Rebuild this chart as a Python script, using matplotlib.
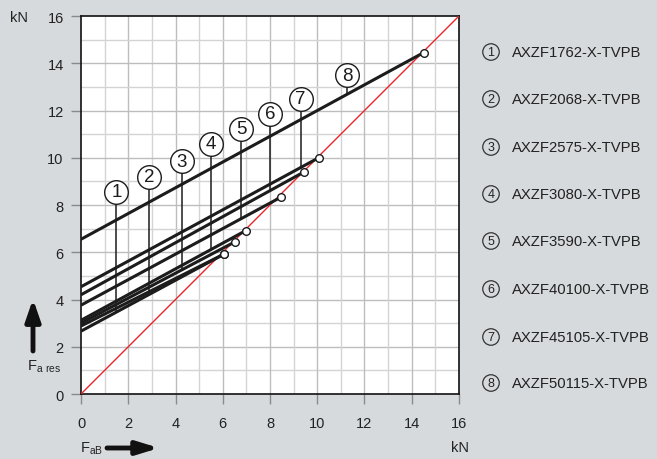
import numpy as np
import matplotlib.pyplot as plt

# --- data ---
models = ['AXZF1762-X-TVPB', 'AXZF2068-X-TVPB', 'AXZF2575-X-TVPB', 'AXZF3080-X-TVPB',
          'AXZF3590-X-TVPB', 'AXZF40100-X-TVPB', 'AXZF45105-X-TVPB', 'AXZF50115-X-TVPB']
# F_a res at F_aB = 0 (kN)
start_y = [2.66, 2.88, 3.00, 3.12, 3.76, 4.20, 4.54, 6.55]
# end point (lift-off) of each line
end_x = [6.07, 6.07, 6.53, 6.98, 8.46, 9.42, 10.06, 14.50]
end_y = [5.93, 5.93, 6.45, 6.92, 8.33, 9.39, 10.00, 14.45]
# position of the numbered label circles
label_x = [1.50, 2.88, 4.27, 5.51, 6.78, 8.02, 9.30, 11.28]
label_y = [8.56, 9.19, 9.86, 10.60, 11.23, 11.86, 12.50, 13.49]

bg = '#d7dadd'
fig = plt.figure(figsize=(6.57, 4.6), dpi=100, facecolor=bg)
ax = fig.add_axes([0.1233, 0.1413, 0.5753, 0.8217])
ax.set_facecolor('white')
ax.set_xlim(0, 16)
ax.set_ylim(0, 16)

# grid: every unit
for v in range(1, 16):
    c = '#bdbdbd' if v % 2 == 0 else '#d4d4d4'
    ax.axvline(v, color=c, lw=1, zorder=1)
    ax.axhline(v, color=c, lw=1, zorder=1)

ax.set_xticks(range(0, 17, 2))
ax.set_yticks(range(0, 17, 2))
ax.tick_params(axis='both', direction='out', length=7.5, width=1, color='#8a8a8a',
               labelsize=10.5, labelcolor='#222222')
ax.tick_params(axis='x', pad=8)
ax.tick_params(axis='y', pad=5)
for s in ax.spines.values():
    s.set_color('#111111')
    s.set_linewidth(1.2)

for lab in ax.get_xticklabels() + ax.get_yticklabels():
    lab.set_fontfamily('Liberation Sans')

# red reference line F_ares = F_aB
ax.plot([0, 16], [0, 16], color='#e8262b', lw=1, zorder=3)

# characteristic lines
for i in range(len(models)):
    ax.plot([0, end_x[i]], [start_y[i], end_y[i]], color='#1c1c1c', lw=2.2,
            solid_capstyle='butt', zorder=4)

# leaders + numbered circles
r = 11.5 / 23.6
for i in range(len(models)):
    yl = np.interp(label_x[i], [0, end_x[i]], [start_y[i], end_y[i]])
    ax.plot([label_x[i], label_x[i]], [yl, label_y[i] - r], color='#1c1c1c', lw=1.1, zorder=4)
    ax.plot(label_x[i], label_y[i], 'o', ms=17, mfc='white', mec='#1c1c1c', mew=1, zorder=6)
    ax.text(label_x[i], label_y[i], str(i + 1), ha='center', va='center', fontsize=13.5,
            family='Liberation Sans', color='#1c1c1c', zorder=7)

# end point markers
for i in range(len(models)):
    ax.plot(end_x[i], end_y[i], 'o', ms=5.5, mfc='white', mec='#1c1c1c', mew=1, zorder=8)

# axis units
fig.text(10 / 657, 1 - 18 / 460, 'kN', fontsize=10.5, family='Liberation Sans',
         color='#222222', ha='left', va='center')
fig.text(460 / 657, 1 - 448 / 460, 'kN', fontsize=10.5, family='Liberation Sans',
         color='#222222', ha='center', va='center')

# axis names with arrows
fig.text(27 / 657, 1 - 367 / 460, r'F$_\mathregular{a\ res}$', fontsize=10.5,
         family='Liberation Sans', color='#222222', ha='left', va='center')
fig.text(80 / 657, 1 - 449 / 460, r'F$_\mathregular{aB}$', fontsize=10.5,
         family='Liberation Sans', color='#222222', ha='left', va='center')
ax.annotate('', xy=(33 / 657, 1 - 300 / 460), xytext=(33 / 657, 1 - 352 / 460),
            xycoords='figure fraction', textcoords='figure fraction',
            arrowprops=dict(arrowstyle='-|>,head_length=1.3,head_width=0.45', color='#111111',
                            lw=3.5, shrinkA=0, shrinkB=0))
ax.annotate('', xy=(159 / 657, 1 - 449 / 460), xytext=(107 / 657, 1 - 449 / 460),
            xycoords='figure fraction', textcoords='figure fraction',
            arrowprops=dict(arrowstyle='-|>,head_length=1.3,head_width=0.4', color='#111111',
                            lw=3.5, shrinkA=0, shrinkB=0))

# legend at right
leg_y = [53, 100, 148, 195, 242, 290, 338, 384]
for i in range(len(models)):
    fig.text(491 / 657, 1 - leg_y[i] / 460, str(i + 1), fontsize=9,
             family='Liberation Sans', color='#222222', ha='center', va='center',
             bbox=dict(boxstyle='circle,pad=0.18', fc='none', ec='#333333', lw=0.9))
    fig.text(512 / 657, 1 - leg_y[i] / 460, models[i], fontsize=10.7,
             family='Liberation Sans', color='#222222', ha='left', va='center')

fig.savefig('out.png', dpi=100, facecolor=bg)
